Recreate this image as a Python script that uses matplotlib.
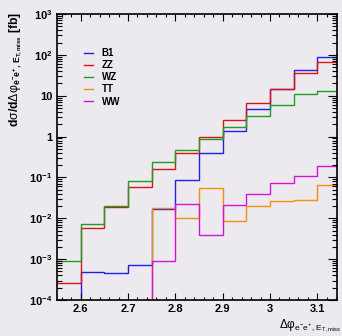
import numpy as np
import matplotlib
matplotlib.use("Agg")
import matplotlib.pyplot as plt
from matplotlib.ticker import FixedLocator, LogLocator, NullFormatter, FuncFormatter, MultipleLocator

plt.rcParams.update({
    "font.family": ["Liberation Sans", "DejaVu Sans"],
    "font.weight": "bold",
    "mathtext.fontset": "custom",
    "mathtext.rm": "Liberation Sans:regular",
    "mathtext.it": "Liberation Sans:italic:regular",
    "mathtext.bf": "Liberation Sans:bold",
    "mathtext.sf": "Liberation Sans:regular",
    "mathtext.fallback": "stixsans",
})

# Bin edges in delta-phi (last bin ends at pi)
edges = [2.55, 2.60, 2.65, 2.70, 2.75, 2.80, 2.85, 2.90, 2.95, 3.00, 3.05, 3.10, np.pi]

# Differential cross sections [fb] per bin (0 = empty bin)
b1 = [0.0, 4.8e-4, 4.5e-4, 7.2e-4, 0.0166, 0.085, 0.39, 1.39, 4.65, 14.4, 42.0, 87.0]
zz = [2.65e-4, 5.7e-3, 0.019, 0.059, 0.158, 0.39, 0.99, 2.6, 6.5, 14.9, 36.0, 66.0]
wz = [9.2e-4, 7.1e-3, 0.0197, 0.081, 0.234, 0.46, 0.89, 1.73, 3.2, 5.9, 10.8, 13.3]
tt = [0.0, 0.0, 0.0, 0.0, 0.0176, 0.010, 0.056, 0.0086, 0.0197, 0.0265, 0.0275, 0.0666]
ww = [0.0, 0.0, 0.0, 0.0, 9.0e-4, 0.022, 3.9e-3, 0.0212, 0.040, 0.072, 0.110, 0.187]

series = [
    ("B1", b1, "#1f1fe6"),
    ("ZZ", zz, "#d81414"),
    ("WZ", wz, "#239a23"),
    ("TT", tt, "#f2900c"),
    ("WW", ww, "#d414d4"),
]

bg = "#ECE9EF"
fig = plt.figure(figsize=(3.42, 3.36), dpi=100, facecolor=bg)
ax = fig.add_axes([57 / 342, 36 / 336, 280 / 342, 286 / 336], facecolor=bg)

for name, vals, col in series:
    v = np.asarray(vals, dtype=float)
    v = np.where(v > 0, v, 1e-9)  # empty bins drop to the floor of the log axis
    ax.stairs(v, edges, baseline=None, color=col, lw=1.0, label=name)

ax.set_yscale("log")
ax.set_xlim(2.55, np.pi)
ax.set_ylim(1e-4, 1e3)

# y axis: decades with ROOT-style labels
def ylab(val, pos):
    e = int(round(np.log10(val)))
    if e == 0:
        return "1"
    if e == 1:
        return "10"
    return r"$\mathbf{10^{%d}}$" % e

ax.yaxis.set_major_locator(FixedLocator([10.0 ** k for k in range(-4, 4)]))
ax.yaxis.set_major_formatter(FuncFormatter(ylab))
ax.yaxis.set_minor_locator(LogLocator(base=10, subs=np.arange(2, 10), numticks=20))
ax.yaxis.set_minor_formatter(NullFormatter())

ax.xaxis.set_major_locator(FixedLocator([2.6, 2.7, 2.8, 2.9, 3.0, 3.1]))
ax.xaxis.set_major_formatter(FuncFormatter(lambda v, p: "%g" % round(v, 2)))
ax.xaxis.set_minor_locator(MultipleLocator(0.02))

ax.tick_params(axis="both", which="both", direction="in", top=True, right=True,
               width=0.8, colors="black", labelsize=8)
ax.tick_params(axis="y", which="major", length=6.5, pad=3.5)
ax.tick_params(axis="y", which="minor", length=3.3)
ax.tick_params(axis="x", which="major", length=5.0, pad=3)
ax.tick_params(axis="x", which="minor", length=2.5)
for lab in ax.get_xticklabels() + ax.get_yticklabels():
    lab.set_fontweight("bold")
for s in ax.spines.values():
    s.set_linewidth(1.2)

# axis titles
fig.text(16 / 342, 1 - 12 / 336,
         r"$\mathbf{d}\mathrm{σ}\mathbf{/d}\mathrm{Δφ}_{\mathbf{e^{-}e^{+},\,E_{T,miss}}}$ [fb]",
         rotation=90, ha="center", va="top", fontsize=8.8, fontweight="bold")
fig.text(341 / 342, 1 / 336,
         r"$\mathrm{Δφ}_{\mathrm{e^{-}e^{+},\,E_{T,miss}}}$",
         ha="right", va="bottom", fontsize=8.5, fontweight="normal")

ax.legend(loc="upper left", bbox_to_anchor=(27 / 280, 1 - 34 / 286), frameon=False,
          handlelength=0.9, handletextpad=0.9, labelspacing=0.22,
          borderpad=0, borderaxespad=0, prop={"weight": "bold", "size": 7})

fig.savefig("out.png", dpi=100, facecolor=bg)
